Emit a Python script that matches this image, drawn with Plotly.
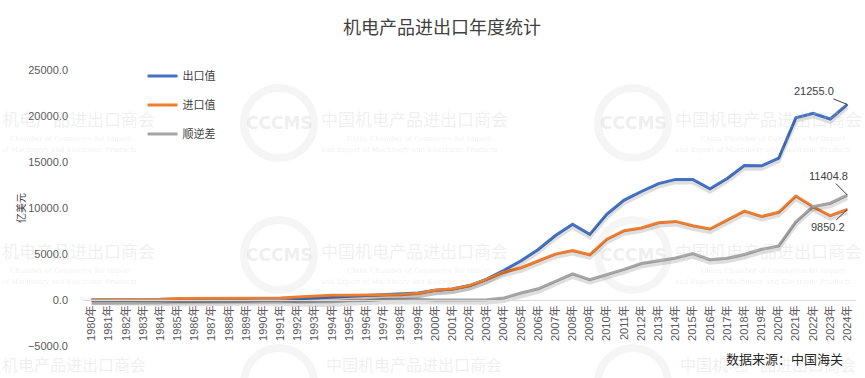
import plotly.graph_objects as go

years = [f"{y}年" for y in range(1980, 2025)]

export_vals = [15, 18, 20, 22, 27, 17, 22, 37, 56, 78,
               111, 140, 132, 227, 320, 439, 483, 593, 665, 770,
               1053, 1188, 1571, 2275, 3234, 4268, 5494, 7012, 8229, 7131,
               9334, 10856, 11794, 12655, 13109, 13107, 12093, 13215, 14607, 14589,
               15411, 19800, 20300, 19680, 21255.0]

import_vals = [45, 50, 42, 55, 95, 167, 172, 150, 178, 195,
               167, 205, 313, 452, 520, 526, 547, 527, 568, 696,
               1052, 1205, 1556, 2250, 3018, 3504, 4277, 4990, 5386, 4914,
               6604, 7533, 7824, 8400, 8543, 8069, 7713, 8683, 9656, 9075,
               9530, 11300, 10140, 9160, 9850.2]

balance_vals = [-30, -32, -22, -33, -68, -150, -150, -113, -122, -117,
                -56, -65, -181, -225, -200, -87, -64, 66, 97, 74,
                1, -17, 15, 25, 216, 764, 1217, 2022, 2843, 2217,
                2730, 3323, 3970, 4255, 4566, 5038, 4380, 4532, 4951, 5514,
                5881, 8500, 10160, 10520, 11404.8]

series_names = ["出口值", "进口值", "顺逆差"]
series_colors = ["#4472C4", "#ED7D31", "#A5A5A5"]
series_data = [export_vals, import_vals, balance_vals]

title_text = "机电产品进出口年度统计"
y_title = "亿美元"
source_text = "数据来源：中国海关"

FONT = "Liberation Sans, Noto Sans CJK SC, sans-serif"
CJK = "Noto Sans CJK SC, sans-serif"

W, H = 865, 378
ML, MR, MT, MB = 83, 9, 70, 32
PW, PH = W - ML - MR, H - MT - MB


def px(x):
    return (x - ML) / PW


def py(y):
    return (H - MB - y) / PH


fig = go.Figure()

# soft drop shadows (drawn on a shifted overlay axis)
for vals in series_data:
    fig.add_trace(go.Scatter(x=years, y=vals, mode="lines", yaxis="y2",
                             line=dict(color="rgba(0,0,0,0.13)", width=4),
                             showlegend=False, hoverinfo="skip"))

for i, (name, col, vals) in enumerate(zip(series_names, series_colors, series_data)):
    fig.add_trace(go.Scatter(x=years, y=vals, mode="lines", name=name,
                             legendgroup=f"g{i}",
                             line=dict(color=col, width=3)))

shift = 330
fig.update_layout(
    width=W, height=H,
    margin=dict(l=ML, r=MR, t=MT, b=MB, autoexpand=False),
    paper_bgcolor="white", plot_bgcolor="white",
    font=dict(family=FONT, color="#595959", size=11),
    title=dict(text=title_text, x=442 / W, xref="container", xanchor="center",
               y=1 - 28 / H, yref="container", yanchor="middle",
               font=dict(family=CJK, size=18, color="#404040")),
    showlegend=True,
    legend=dict(x=0.077, y=1.031, xanchor="left", yanchor="top",
                bgcolor="rgba(0,0,0,0)", font=dict(family=CJK, size=11, color="#404040"),
                tracegroupgap=10, itemwidth=30, traceorder="grouped"),
    xaxis=dict(type="category", categoryorder="array", categoryarray=years,
               range=[-0.5, len(years) - 0.5], anchor="free", position=1 / 6,
               showline=True, linecolor="#d9d9d9", linewidth=1, showgrid=False,
               zeroline=False, ticks="", tickangle=-90,
               tickfont=dict(family=FONT, size=11, color="#595959")),
    yaxis=dict(range=[-5000, 25000], dtick=5000, tickformat=".1f",
               showgrid=False, zeroline=False, showline=False, ticks="",
               ticklabelstandoff=14,
               tickfont=dict(family=FONT, size=11, color="#595959"),
               title=dict(text=y_title, standoff=0,
                          font=dict(family=CJK, size=10, color="#404040"))),
    yaxis2=dict(range=[-5000 + shift, 25000 + shift], overlaying="y",
                visible=False),
)

# watermarks (very faint), clipped portions shown as the visible parts
wm_col = "rgba(200,200,200,0.28)"
logo_col = "rgba(200,200,200,0.3)"
ring_col = "rgba(200,200,200,0.18)"
wm_cn = "中国机电产品进出口商会"
wm_cn_left = "机电产品进出口商会"
wm_en1 = "China Chamber of Commerce for Import"
wm_en2 = "and Export of Machinery and Electronic Products"
wm_en1_left = "Chamber of Commerce for Import"
wm_en2_left = "of Machinery and Electronic Products"

rows_px = [118, 250]
cols_px = [414, 768]
for ry in rows_px:
    # left, partly clipped column
    fig.add_annotation(x=px(0), y=py(ry), xref="paper", yref="paper",
                       text=wm_cn_left, showarrow=False, xanchor="left", yanchor="middle",
                       font=dict(family=CJK, size=17, color=wm_col))
    fig.add_annotation(x=px(8), y=py(ry + 21), xref="paper", yref="paper",
                       text=wm_en1_left, showarrow=False, xanchor="left", yanchor="middle",
                       font=dict(family="DejaVu Serif", size=7, color=wm_col))
    fig.add_annotation(x=px(0), y=py(ry + 32), xref="paper", yref="paper",
                       text=wm_en2_left, showarrow=False, xanchor="left", yanchor="middle",
                       font=dict(family="DejaVu Serif", size=7, color=wm_col))
    for cx in cols_px:
        fig.add_annotation(x=px(cx), y=py(ry), xref="paper", yref="paper",
                           text=wm_cn, showarrow=False, xanchor="center", yanchor="middle",
                           font=dict(family=CJK, size=17, color=wm_col))
        fig.add_annotation(x=px(cx + 5), y=py(ry + 21), xref="paper", yref="paper",
                           text=wm_en1, showarrow=False, xanchor="center", yanchor="middle",
                           font=dict(family="DejaVu Serif", size=7, color=wm_col))
        fig.add_annotation(x=px(cx - 5), y=py(ry + 32), xref="paper", yref="paper",
                           text=wm_en2, showarrow=False, xanchor="center", yanchor="middle",
                           font=dict(family="DejaVu Serif", size=7, color=wm_col))
        fig.add_annotation(x=px(cx - 135), y=py(ry + 5), xref="paper", yref="paper",
                           text="<b>CCCMS</b>", showarrow=False, xanchor="center", yanchor="middle",
                           font=dict(family="DejaVu Sans", size=17, color=logo_col))

# bottom row (only top part visible in the reference)
fig.add_annotation(x=px(0), y=py(364), xref="paper", yref="paper",
                   text=wm_cn_left, showarrow=False, xanchor="left", yanchor="middle",
                   font=dict(family=CJK, size=16, color=wm_col))
for cx in cols_px:
    fig.add_annotation(x=px(cx), y=py(364), xref="paper", yref="paper",
                       text=wm_cn, showarrow=False, xanchor="center", yanchor="middle",
                       font=dict(family=CJK, size=16, color=wm_col))

for ry in [118, 250, 378]:
    for cx in cols_px:
        fig.add_shape(type="circle", xref="paper", yref="paper",
                      x0=px(cx - 170), x1=px(cx - 100),
                      y0=py(ry + 40), y1=py(ry - 30),
                      line=dict(color=ring_col, width=8),
                      layer="below")

# data labels with leader lines
last = years[-1]
label_specs = [(export_vals[-1], -33, -13), (balance_vals[-1], -19, -19), (import_vals[-1], -19, 18)]
for val, ax, ay in label_specs:
    fig.add_annotation(x=last, y=val, xref="x", yref="y", text=f"{val:.1f}",
                       showarrow=True, arrowhead=0, arrowwidth=1, arrowcolor="#404040",
                       ax=ax, ay=ay, font=dict(family=FONT, size=11, color="#404040"))

fig.add_annotation(x=px(845), y=py(358), xref="paper", yref="paper",
                   text=source_text, showarrow=False, xanchor="right", yanchor="middle",
                   font=dict(family=CJK, size=13, color="#262626"))

fig.write_html("out.html", config={"displayModeBar": False},
               post_script="document.body.style.margin='0';")
